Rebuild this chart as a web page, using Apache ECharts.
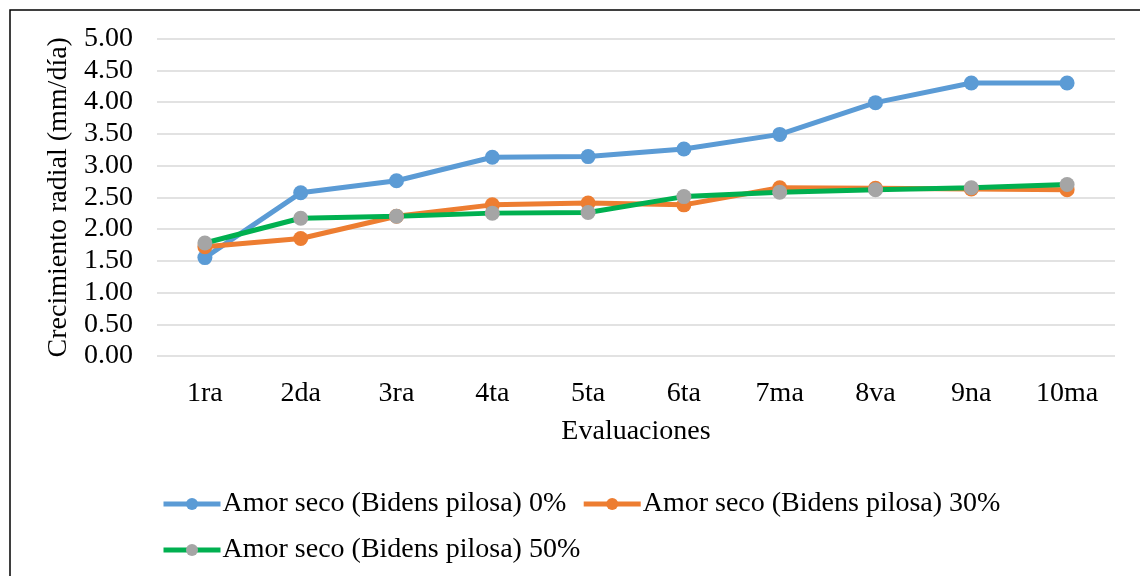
<!DOCTYPE html>
<html lang="es">
<head>
    <meta charset="UTF-8">
    <title>Crecimiento radial</title>
    <style type="text/css">
        * { margin: 0; padding: 0; }
        html, body { width: 100%; height: 100%; background: #fff; }
        #main { width: 1140px; height: 576px; }
    </style>
</head>
<body>
<div id="main"></div>
<script src="https://cdn.jsdelivr.net/npm/echarts@6/dist/echarts.min.js"></script>
<script>
    var myChart = echarts.init(document.getElementById('main'));

    const categories = ['1ra', '2da', '3ra', '4ta', '5ta', '6ta', '7ma', '8va', '9na', '10ma'];
    const seriesNames = [
        'Amor seco (Bidens pilosa) 0%',
        'Amor seco (Bidens pilosa) 30%',
        'Amor seco (Bidens pilosa) 50%'
    ];
    const values0 = [1.55, 2.57, 2.76, 3.13, 3.14, 3.26, 3.49, 3.99, 4.30, 4.30];
    const values30 = [1.72, 1.85, 2.20, 2.38, 2.41, 2.38, 2.65, 2.64, 2.63, 2.62];
    const values50 = [1.78, 2.17, 2.20, 2.25, 2.26, 2.51, 2.58, 2.62, 2.65, 2.70];

    const font = "'Liberation Serif', 'Times New Roman', serif";
    const fs = 28;

    function lineSeries(name, data, lineColor, markColor) {
        return {
            name: name,
            type: 'line',
            data: data,
            symbol: 'circle',
            symbolSize: 15,
            showAllSymbol: true,
            lineStyle: { color: lineColor, width: 5 },
            itemStyle: { color: markColor },
            emphasis: { disabled: true }
        };
    }

    // two legend rows, laid out like the Excel legend
    function legendRow(top, names) {
        return {
            left: 161,
            top: top,
            padding: 0,
            itemWidth: 57,
            itemHeight: 15,
            itemGap: 15,
            lineStyle: { width: 5 },
            textStyle: {
                fontFamily: font, fontSize: fs, color: '#000',
                padding: [0, 0, 0, -3]
            },
            data: names
        };
    }

    var option = {
        animation: false,
        textStyle: { fontFamily: font },
        graphic: [{
            type: 'rect',
            shape: { x: 10, y: 10, width: 1160, height: 600 },
            style: { fill: 'none', stroke: '#000', lineWidth: 1.5 },
            silent: true
        }],
        grid: { left: 157, right: 25, top: 38.5, bottom: 220 },
        legend: [
            legendRow(490, [seriesNames[0], seriesNames[1]]),
            legendRow(536, [seriesNames[2]])
        ],
        xAxis: {
            type: 'category',
            data: categories,
            boundaryGap: true,
            axisLine: { show: false },
            axisTick: { show: false },
            axisLabel: { fontFamily: font, fontSize: fs, color: '#000', margin: 24 },
            name: 'Evaluaciones',
            nameLocation: 'middle',
            nameGap: 62,
            nameTextStyle: { fontFamily: font, fontSize: fs, color: '#000' }
        },
        yAxis: {
            type: 'value',
            min: 0,
            max: 5,
            interval: 0.5,
            axisLine: { show: false },
            axisTick: { show: false },
            splitLine: { lineStyle: { color: '#d9d9d9', width: 1.5 } },
            axisLabel: {
                fontFamily: font, fontSize: fs, color: '#000', margin: 24,
                formatter: function (v) { return v.toFixed(2); }
            },
            name: 'Crecimiento radial (mm/día)',
            nameLocation: 'middle',
            nameGap: 78,
            nameTextStyle: { fontFamily: font, fontSize: fs, color: '#000' }
        },
        series: [
            lineSeries(seriesNames[0], values0, '#5b9bd5', '#5b9bd5'),
            lineSeries(seriesNames[1], values30, '#ed7d31', '#ed7d31'),
            lineSeries(seriesNames[2], values50, '#00b050', '#a5a5a5')
        ]
    };

    myChart.setOption(option);
</script>
</body>
</html>
